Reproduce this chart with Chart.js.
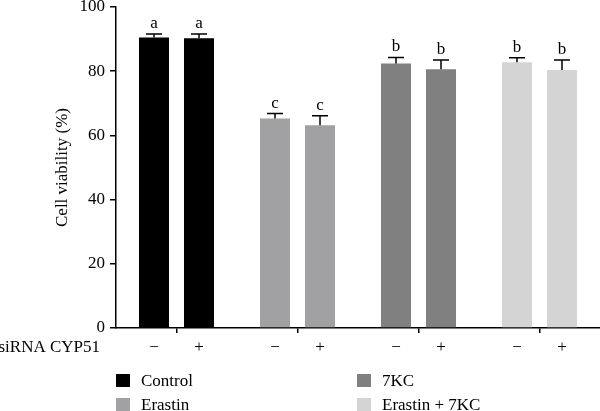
<!DOCTYPE html>
<html>
<head>
<meta charset="utf-8">
<script src="https://cdn.jsdelivr.net/npm/chart.js@4.4.1/dist/chart.umd.min.js"></script>
<style>
  html, body { margin: 0; padding: 0; background: #fff; }
  #wrap { width: 600px; height: 411px; position: relative; }
</style>
</head>
<body>
<div id="wrap"><canvas id="chart"></canvas></div>
<script>
const groups = ['Control', 'Erastin', '7KC', 'Erastin + 7KC'];
const groupColors = ['#000000', '#a1a1a3', '#808080', '#d4d4d4'];
const sirnaLabels = ['−', '+'];
const meanMinus = [90.5, 65.3, 82.4, 82.8];
const meanPlus = [90.3, 63.2, 80.6, 80.4];
const errMinus = [1.1, 1.5, 1.9, 1.4];
const errPlus = [1.3, 2.9, 2.9, 3.1];
const letterMinus = ['a', 'c', 'b', 'b'];
const letterPlus = ['a', 'c', 'b', 'b'];
const yTicks = [0, 20, 40, 60, 80, 100];

const FONT = '"Liberation Serif", "Times New Roman", serif';

const annotations = {
  id: 'annotations',
  afterDatasetsDraw(chart) {
    const ctx = chart.ctx;
    const y = chart.scales.y;
    const errs = [errMinus, errPlus];
    const letters = [letterMinus, letterPlus];
    ctx.save();
    ctx.strokeStyle = '#000';
    ctx.lineWidth = 1.5;
    ctx.fillStyle = '#000';
    ctx.font = '17px ' + FONT;
    ctx.textAlign = 'center';
    ctx.textBaseline = 'alphabetic';
    chart.data.datasets.forEach((ds, di) => {
      const meta = chart.getDatasetMeta(di);
      meta.data.forEach((bar, i) => {
        const top = y.getPixelForValue(ds.data[i]);
        const cap = y.getPixelForValue(ds.data[i] + errs[di][i]);
        ctx.beginPath();
        ctx.moveTo(bar.x, top);
        ctx.lineTo(bar.x, cap);
        ctx.moveTo(bar.x - 8, cap);
        ctx.lineTo(bar.x + 8, cap);
        ctx.stroke();
        ctx.fillText(letters[di][i], bar.x, cap - 6);
        // siRNA row
        ctx.fillText(sirnaLabels[di], bar.x, 352);
      });
    });
    ctx.textAlign = 'right';
    ctx.fillText('siRNA CYP51', 100, 352);

    // legend, two columns
    const cols = [116, 357];
    const rows = [374, 398];
    ctx.textAlign = 'left';
    groups.forEach((g, i) => {
      const cx = cols[Math.floor(i / 2)];
      const cy = rows[i % 2];
      ctx.fillStyle = groupColors[i];
      ctx.fillRect(cx, cy, 14, 13);
      ctx.fillStyle = '#000';
      ctx.fillText(g, cx + 25, cy + 12);
    });
    ctx.restore();
  }
};

new Chart(document.getElementById('chart'), {
  type: 'bar',
  data: {
    labels: groups,
    datasets: [
      { label: 'siRNA CYP51 −', data: meanMinus, backgroundColor: groupColors, borderWidth: 0 },
      { label: 'siRNA CYP51 +', data: meanPlus, backgroundColor: groupColors, borderWidth: 0 },
    ],
  },
  options: {
    responsive: true,
    maintainAspectRatio: false,
    animation: false,
    categoryPercentage: 0.744,
    barPercentage: 0.667,
    layout: { padding: { top: 7, right: 0, bottom: 78, left: 0 } },
    plugins: { legend: { display: false }, tooltip: { enabled: false } },
    scales: {
      x: {
        ticks: { display: false },
        grid: { offset: false, drawOnChartArea: false, drawTicks: true, tickLength: 5, color: '#000', lineWidth: 1.5 },
        border: { color: '#000', width: 1.5 },
        afterFit(scale) { scale.height = 5; },
      },
      y: {
        min: 0,
        max: 100,
        afterBuildTicks(scale) { scale.ticks = yTicks.map(v => ({ value: v })); },
        ticks: { color: '#000', font: { family: FONT, size: 17 }, padding: 5 },
        grid: { drawOnChartArea: false, drawTicks: true, tickLength: 6, color: '#000', lineWidth: 1.5 },
        border: { color: '#000', width: 1.5 },
        title: { display: true, text: 'Cell viability (%)', color: '#000', font: { family: FONT, size: 17 }, padding: { top: 52, bottom: 0 } },
        afterFit(scale) {
          scale.width = 116;
          scale.paddingTop = 0;
          scale.paddingBottom = 0;
        },
      },
    },
  },
  plugins: [annotations],
});
</script>
</body>
</html>
